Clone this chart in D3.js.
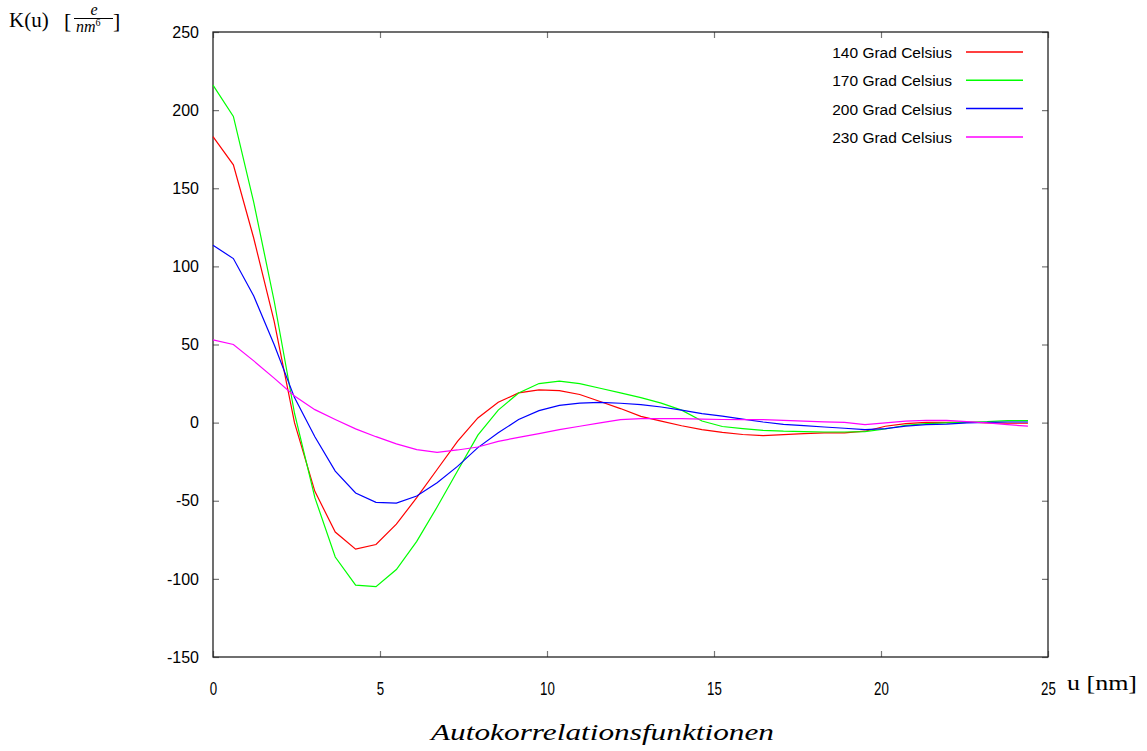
<!DOCTYPE html>
<html>
<head>
<meta charset="utf-8">
<script src="https://cdn.jsdelivr.net/npm/d3@7"></script>
<style>
  body { margin: 0; background: #fff; }
  svg { display: block; }
</style>
</head>
<body>
<div id="chart"></div>
<script>
// u values (nm), shared by all curves
var uValues = [0, 0.61, 1.22, 1.83, 2.44, 3.05, 3.66, 4.27, 4.88, 5.49,
  6.1, 6.71, 7.32, 7.93, 8.54, 9.15, 9.76, 10.37, 10.98, 11.59,
  12.2, 12.81, 13.42, 14.03, 14.64, 15.25, 15.86, 16.47, 17.08, 17.69,
  18.3, 18.91, 19.52, 20.13, 20.74, 21.35, 21.96, 22.57, 23.18, 23.79, 24.4];

var k140 = [183, 165, 118, 65, 0, -44, -70, -81, -78, -65,
  -48, -30, -12, 3, 13, 19, 21, 20.5, 18, 13.5,
  9, 4, 1, -2, -4.5, -6.3, -7.6, -8.3, -7.7, -7,
  -6.6, -6.6, -5.5, -2.3, -0.6, 0.2, 0.2, 0.4, -0.2, -0.4, -0.4];

var k170 = [216, 196, 141, 78, 6, -48, -86, -104, -105, -94,
  -76, -54, -31, -8, 8, 19, 25, 26.5, 25, 22,
  19, 16, 12.5, 8, 1, -2.5, -3.8, -4.9, -5.5, -5.8,
  -6, -6, -5.8, -4.1, -1.7, -0.6, -0.2, 0.2, 0.6, 1.3, 1.3];

var k200 = [113.5, 105, 81, 50, 16, -9, -31, -45, -51, -51.5,
  -47, -38.5, -28, -16, -6.5, 2, 7.7, 11, 12.5, 13,
  12.4, 11.5, 10, 8, 5.8, 4.1, 2.3, 0.4, -1.1, -1.9,
  -2.8, -3.6, -4.5, -3.8, -2.3, -1.3, -0.9, -0.2, 0.2, 0.4, 0.4];

var k230 = [53, 50, 39.5, 28.5, 17, 8.3, 2, -4, -9, -13.6,
  -17.3, -19, -17.5, -15.6, -12, -9.4, -7, -4.5, -2.3, -0.2,
  1.9, 2.5, 2.5, 2.5, 2.2, 2.0, 1.9, 1.9, 1.5, 0.9,
  0.5, 0.2, -1.3, -0.2, 0.9, 1.5, 1.5, 0.6, -0.2, -1.3, -2.3];

var seriesNames = ['140 Grad Celsius', '170 Grad Celsius', '200 Grad Celsius', '230 Grad Celsius'];
var seriesColors = ['#ff0000', '#00ff00', '#0000ff', '#ff00ff'];
var xTicks = [0, 5, 10, 15, 20, 25];
var yTicks = [-150, -100, -50, 0, 50, 100, 150, 200, 250];

var width = 1147, height = 751;
var plotLeft = 213, plotRight = 1048, plotTop = 32, plotBottom = 657;

var svg = d3.select('#chart').append('svg')
  .attr('width', width)
  .attr('height', height);

var x = d3.scaleLinear().domain([0, 25]).range([plotLeft, plotRight]);
var y = d3.scaleLinear().domain([-150, 250]).range([plotBottom, plotTop]);

// ticks on all four sides, pointing inward
var yAxis = svg.append('g')
  .attr('transform', 'translate(' + plotLeft + ',0)')
  .call(d3.axisLeft(y).tickValues(yTicks).tickSize(-6).tickPadding(14)
    .tickFormat(function(d) { return String(d); }));

svg.append('g')
  .attr('transform', 'translate(' + plotRight + ',0)')
  .call(d3.axisRight(y).tickValues(yTicks).tickSize(-6).tickFormat(''));

var xAxis = svg.append('g')
  .attr('transform', 'translate(0,' + plotBottom + ')')
  .call(d3.axisBottom(x).tickValues(xTicks).tickSize(-6).tickPadding(24)
    .tickFormat(function(d) { return String(d); }));

svg.append('g')
  .attr('transform', 'translate(0,' + plotTop + ')')
  .call(d3.axisTop(x).tickValues(xTicks).tickSize(-6).tickFormat(''));

svg.selectAll('.domain').remove();
svg.selectAll('.tick line').attr('stroke', '#777').attr('stroke-width', 1.2);

yAxis.selectAll('text')
  .attr('font-family', 'Liberation Sans, Arial, sans-serif')
  .attr('font-size', '16px')
  .attr('fill', '#000');

xAxis.selectAll('text')
  .attr('font-family', 'Liberation Sans, Arial, sans-serif')
  .attr('font-size', '19px')
  .attr('fill', '#000')
  .attr('dy', 0)
  .attr('y', 38)
  .attr('transform', 'scale(0.7,1)');

// frame
svg.append('rect')
  .attr('x', plotLeft)
  .attr('y', plotTop)
  .attr('width', plotRight - plotLeft)
  .attr('height', plotBottom - plotTop)
  .attr('fill', 'none')
  .attr('stroke', '#222')
  .attr('stroke-width', 1.3);

var line = d3.line()
  .x(function(d, i) { return x(uValues[i]); })
  .y(function(d) { return y(d); });

var allSeries = [k140, k170, k200, k230];

svg.append('g').selectAll('path')
  .data(allSeries)
  .enter()
  .append('path')
  .attr('d', line)
  .attr('fill', 'none')
  .attr('stroke', function(d, i) { return seriesColors[i]; })
  .attr('stroke-width', 1.2);

// legend
var legend = svg.append('g');
seriesNames.forEach(function(name, i) {
  var ly = 52 + i * 28.3;
  legend.append('text')
    .attr('x', 952)
    .attr('y', ly + 6)
    .attr('text-anchor', 'end')
    .attr('font-family', 'Liberation Sans, Arial, sans-serif')
    .attr('font-size', '15.5px')
    .text(name);
  legend.append('line')
    .attr('x1', 966)
    .attr('x2', 1023)
    .attr('y1', ly)
    .attr('y2', ly)
    .attr('stroke', seriesColors[i])
    .attr('stroke-width', 1.5);
});

// y axis label K(u) [e / nm^6]
var serif = 'Liberation Serif, DejaVu Serif, serif';
svg.append('text')
  .attr('x', 9)
  .attr('y', 27)
  .attr('font-family', serif)
  .attr('font-size', '21px')
  .text('K(u)');
svg.append('text')
  .attr('x', 64)
  .attr('y', 28)
  .attr('font-family', serif)
  .attr('font-size', '22px')
  .text('[');
svg.append('text')
  .attr('x', 94)
  .attr('y', 15)
  .attr('text-anchor', 'middle')
  .attr('font-family', serif)
  .attr('font-style', 'italic')
  .attr('font-size', '16px')
  .text('e');
svg.append('line')
  .attr('x1', 74)
  .attr('x2', 113)
  .attr('y1', 18.5)
  .attr('y2', 18.5)
  .attr('stroke', '#000')
  .attr('stroke-width', 1);
var nm = svg.append('text')
  .attr('x', 76)
  .attr('y', 32)
  .attr('font-family', serif)
  .attr('font-style', 'italic')
  .attr('font-size', '16px');
nm.append('tspan').text('nm');
nm.append('tspan').attr('font-size', '10px').attr('dy', -6).attr('font-style', 'normal').text('6');
svg.append('text')
  .attr('x', 113)
  .attr('y', 28)
  .attr('font-family', serif)
  .attr('font-size', '22px')
  .text(']');

// x axis label
svg.append('text')
  .attr('x', 1067)
  .attr('y', 690)
  .attr('font-family', serif)
  .attr('font-size', '21px')
  .attr('textLength', 70)
  .attr('lengthAdjust', 'spacingAndGlyphs')
  .text('u [nm]');

// caption
svg.append('text')
  .attr('x', 431)
  .attr('y', 740)
  .attr('font-family', serif)
  .attr('font-style', 'italic')
  .attr('font-size', '24px')
  .attr('textLength', 343)
  .attr('lengthAdjust', 'spacingAndGlyphs')
  .text('Autokorrelationsfunktionen');
</script>
</body>
</html>
